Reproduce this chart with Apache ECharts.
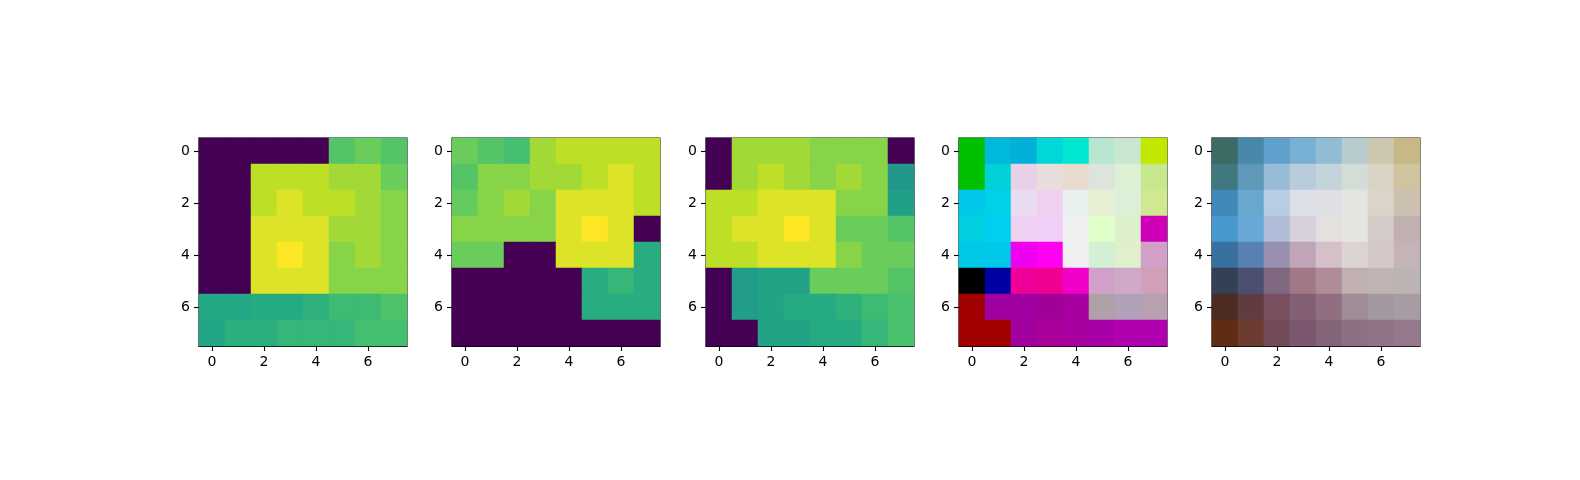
<!DOCTYPE html>
<html>
<head>
<meta charset="utf-8">
<script src="https://cdn.jsdelivr.net/npm/echarts@6/dist/echarts.min.js"></script>
<style>
  html, body { margin: 0; padding: 0; background: #fff; }
  #main { width: 1580px; height: 480px; }
</style>
</head>
<body>
<div id="main"></div>
<script>
// tick categories (0..7), only even ones get a label
const ticks = ['0', '1', '2', '3', '4', '5', '6', '7'];

// scalar images, values as fraction of the colormap range (row 0 = top)
const panel1 = [
  [0, 0, 0, 0, 0, 0.73, 0.77, 0.73],
  [0, 0, 0.9, 0.9, 0.9, 0.86, 0.86, 0.77],
  [0, 0, 0.9, 0.95, 0.9, 0.9, 0.86, 0.82],
  [0, 0, 0.95, 0.95, 0.95, 0.86, 0.86, 0.82],
  [0, 0, 0.95, 1, 0.95, 0.82, 0.86, 0.82],
  [0, 0, 0.95, 0.95, 0.95, 0.82, 0.82, 0.82],
  [0.6, 0.6, 0.61, 0.61, 0.64, 0.68, 0.68, 0.72],
  [0.59, 0.63, 0.63, 0.66, 0.66, 0.66, 0.7, 0.7]
];
const panel2 = [
  [0.77, 0.73, 0.7, 0.86, 0.9, 0.9, 0.9, 0.9],
  [0.73, 0.82, 0.82, 0.86, 0.86, 0.9, 0.95, 0.9],
  [0.76, 0.82, 0.86, 0.82, 0.95, 0.95, 0.95, 0.9],
  [0.82, 0.82, 0.82, 0.82, 0.95, 1, 0.95, 0],
  [0.77, 0.77, 0, 0, 0.95, 0.95, 0.95, 0.62],
  [0, 0, 0, 0, 0, 0.62, 0.66, 0.62],
  [0, 0, 0, 0, 0, 0.62, 0.62, 0.62],
  [0, 0, 0, 0, 0, 0, 0, 0]
];
const panel3 = [
  [0, 0.86, 0.86, 0.86, 0.82, 0.82, 0.82, 0],
  [0, 0.86, 0.9, 0.86, 0.82, 0.86, 0.82, 0.53],
  [0.9, 0.9, 0.95, 0.95, 0.95, 0.82, 0.82, 0.56],
  [0.9, 0.95, 0.95, 1, 0.95, 0.77, 0.77, 0.73],
  [0.9, 0.9, 0.95, 0.95, 0.95, 0.82, 0.77, 0.77],
  [0, 0.55, 0.58, 0.58, 0.77, 0.77, 0.77, 0.73],
  [0, 0.55, 0.58, 0.61, 0.61, 0.64, 0.68, 0.71],
  [0, 0, 0.58, 0.58, 0.61, 0.61, 0.66, 0.71]
];

// rgb images
const panel4 = [
  ['#00c000', '#00b8dc', '#00b0d8', '#00d8d8', '#00e8d0', '#b8e6d0', '#c8e6d0', '#c0e800'],
  ['#00c000', '#00d0d8', '#e8d0e8', '#e8dcdc', '#e8dcd0', '#dce4dc', '#dcf0d4', '#c8e890'],
  ['#00c8e8', '#00d0e8', '#e8dcf0', '#f0d0f0', '#e8f0f0', '#e8f0d4', '#dcf0d8', '#d0e890'],
  ['#00d0e0', '#00d0f0', '#f0d0f0', '#f0d0f8', '#f0f0f0', '#e0ffc8', '#dcf0cc', '#d000b8'],
  ['#00c8e8', '#00c8e8', '#f000f0', '#ff00f0', '#f0f0f0', '#d4f0d4', '#e0f0cc', '#d0a0c8'],
  ['#000000', '#0000a0', '#f00098', '#f00090', '#f000c8', '#d0a0c8', '#d0a8c8', '#d0a0b8'],
  ['#a00000', '#a000a0', '#a000a0', '#a00098', '#a800a0', '#b0a0a8', '#b0a0b8', '#b8a0b0'],
  ['#a00000', '#a00000', '#a000a0', '#a80098', '#a800a0', '#a800a8', '#b000b0', '#b000b0']
];
const panel5 = [
  ['#3c6a64', '#4888a8', '#60a0cc', '#78b0d4', '#90bcd4', '#b8ccd0', '#ccc8b0', '#c8b888'],
  ['#407880', '#6098b8', '#98bcd8', '#b8ccdc', '#c4d4dc', '#d4dcd8', '#d8d4c4', '#d0c4a0'],
  ['#4088b8', '#68a8d0', '#b8cce4', '#dce0e8', '#e0e0e4', '#e4e4e0', '#dcd4c8', '#ccc0b0'],
  ['#4898d0', '#68a8d8', '#b0bcd8', '#d8d0dc', '#e4e0e0', '#e4e4e0', '#d4ccc8', '#c0b0b0'],
  ['#3870a0', '#5880b0', '#9890b0', '#c0a4b8', '#d4c0c8', '#dcd4d4', '#d4c8c8', '#c4b4b8'],
  ['#344054', '#4c5070', '#806880', '#a07888', '#b08c98', '#c0b0b0', '#c0b4b4', '#bcb4b4'],
  ['#4c2c20', '#603c40', '#785060', '#846074', '#907080', '#a08c94', '#a498a0', '#a89ca4'],
  ['#602c14', '#6c3c30', '#744c58', '#7c5870', '#846478', '#8c7084', '#907488', '#94788c']
];

const viridis = ['#440154', '#482475', '#414487', '#355f8d', '#2a788e', '#21918c',
  '#22a884', '#44bf70', '#7ad151', '#bddf26', '#fde725'];

const scalarPanels = [panel1, panel2, panel3];
const rgbPanels = [panel4, panel5];

const chart = echarts.init(document.getElementById('main'), null, { renderer: 'canvas' });

const grids = [], xAxes = [], yAxes = [], series = [], visualMaps = [];
// whole-pixel cells (8 x 26px) so neighbouring cells leave no seams
const left0 = 199, step = 253.3, size = 208, top0 = 138;

function addAxes(i) {
  grids.push({
    left: Math.round(left0 + i * step), top: top0, width: size, height: size,
    show: true, borderColor: '#000', borderWidth: 1.1, backgroundColor: 'transparent'
  });
  const common = {
    type: 'category', data: ticks, gridIndex: i,
    axisLine: { show: true, lineStyle: { color: '#000', width: 1.1 } },
    axisTick: { show: true, alignWithLabel: true, interval: 1, length: 5, lineStyle: { color: '#000', width: 1.1 } },
    axisLabel: { interval: 1, color: '#000', fontSize: 14, fontFamily: 'DejaVu Sans', margin: 9 },
    splitLine: { show: false }
  };
  xAxes.push(Object.assign({}, common, { position: 'bottom' }));
  yAxes.push(Object.assign({}, common, { position: 'left', inverse: true }));
}

function cells(img, rgb) {
  const out = [];
  for (let r = 0; r < img.length; r++) {
    for (let c = 0; c < img[r].length; c++) {
      if (rgb) out.push({ value: [c, r, 0], itemStyle: { color: img[r][c] } });
      else out.push([c, r, img[r][c]]);
    }
  }
  return out;
}

scalarPanels.forEach(function (img, i) {
  addAxes(i);
  series.push({
    type: 'heatmap', xAxisIndex: i, yAxisIndex: i,
    data: cells(img, false), itemStyle: { borderWidth: 0 },
    emphasis: { disabled: true }, progressive: 0
  });
  visualMaps.push({
    show: false, type: 'continuous', min: 0, max: 1, dimension: 2,
    seriesIndex: i, inRange: { color: viridis }
  });
});

rgbPanels.forEach(function (img, j) {
  const i = j + 3;
  addAxes(i);
  series.push({
    type: 'heatmap', xAxisIndex: i, yAxisIndex: i,
    data: cells(img, true), itemStyle: { borderWidth: 0 },
    emphasis: { disabled: true }, progressive: 0
  });
});

chart.setOption({
  backgroundColor: '#fff',
  animation: false,
  grid: grids,
  xAxis: xAxes,
  yAxis: yAxes,
  visualMap: visualMaps,
  series: series
});
</script>
</body>
</html>
